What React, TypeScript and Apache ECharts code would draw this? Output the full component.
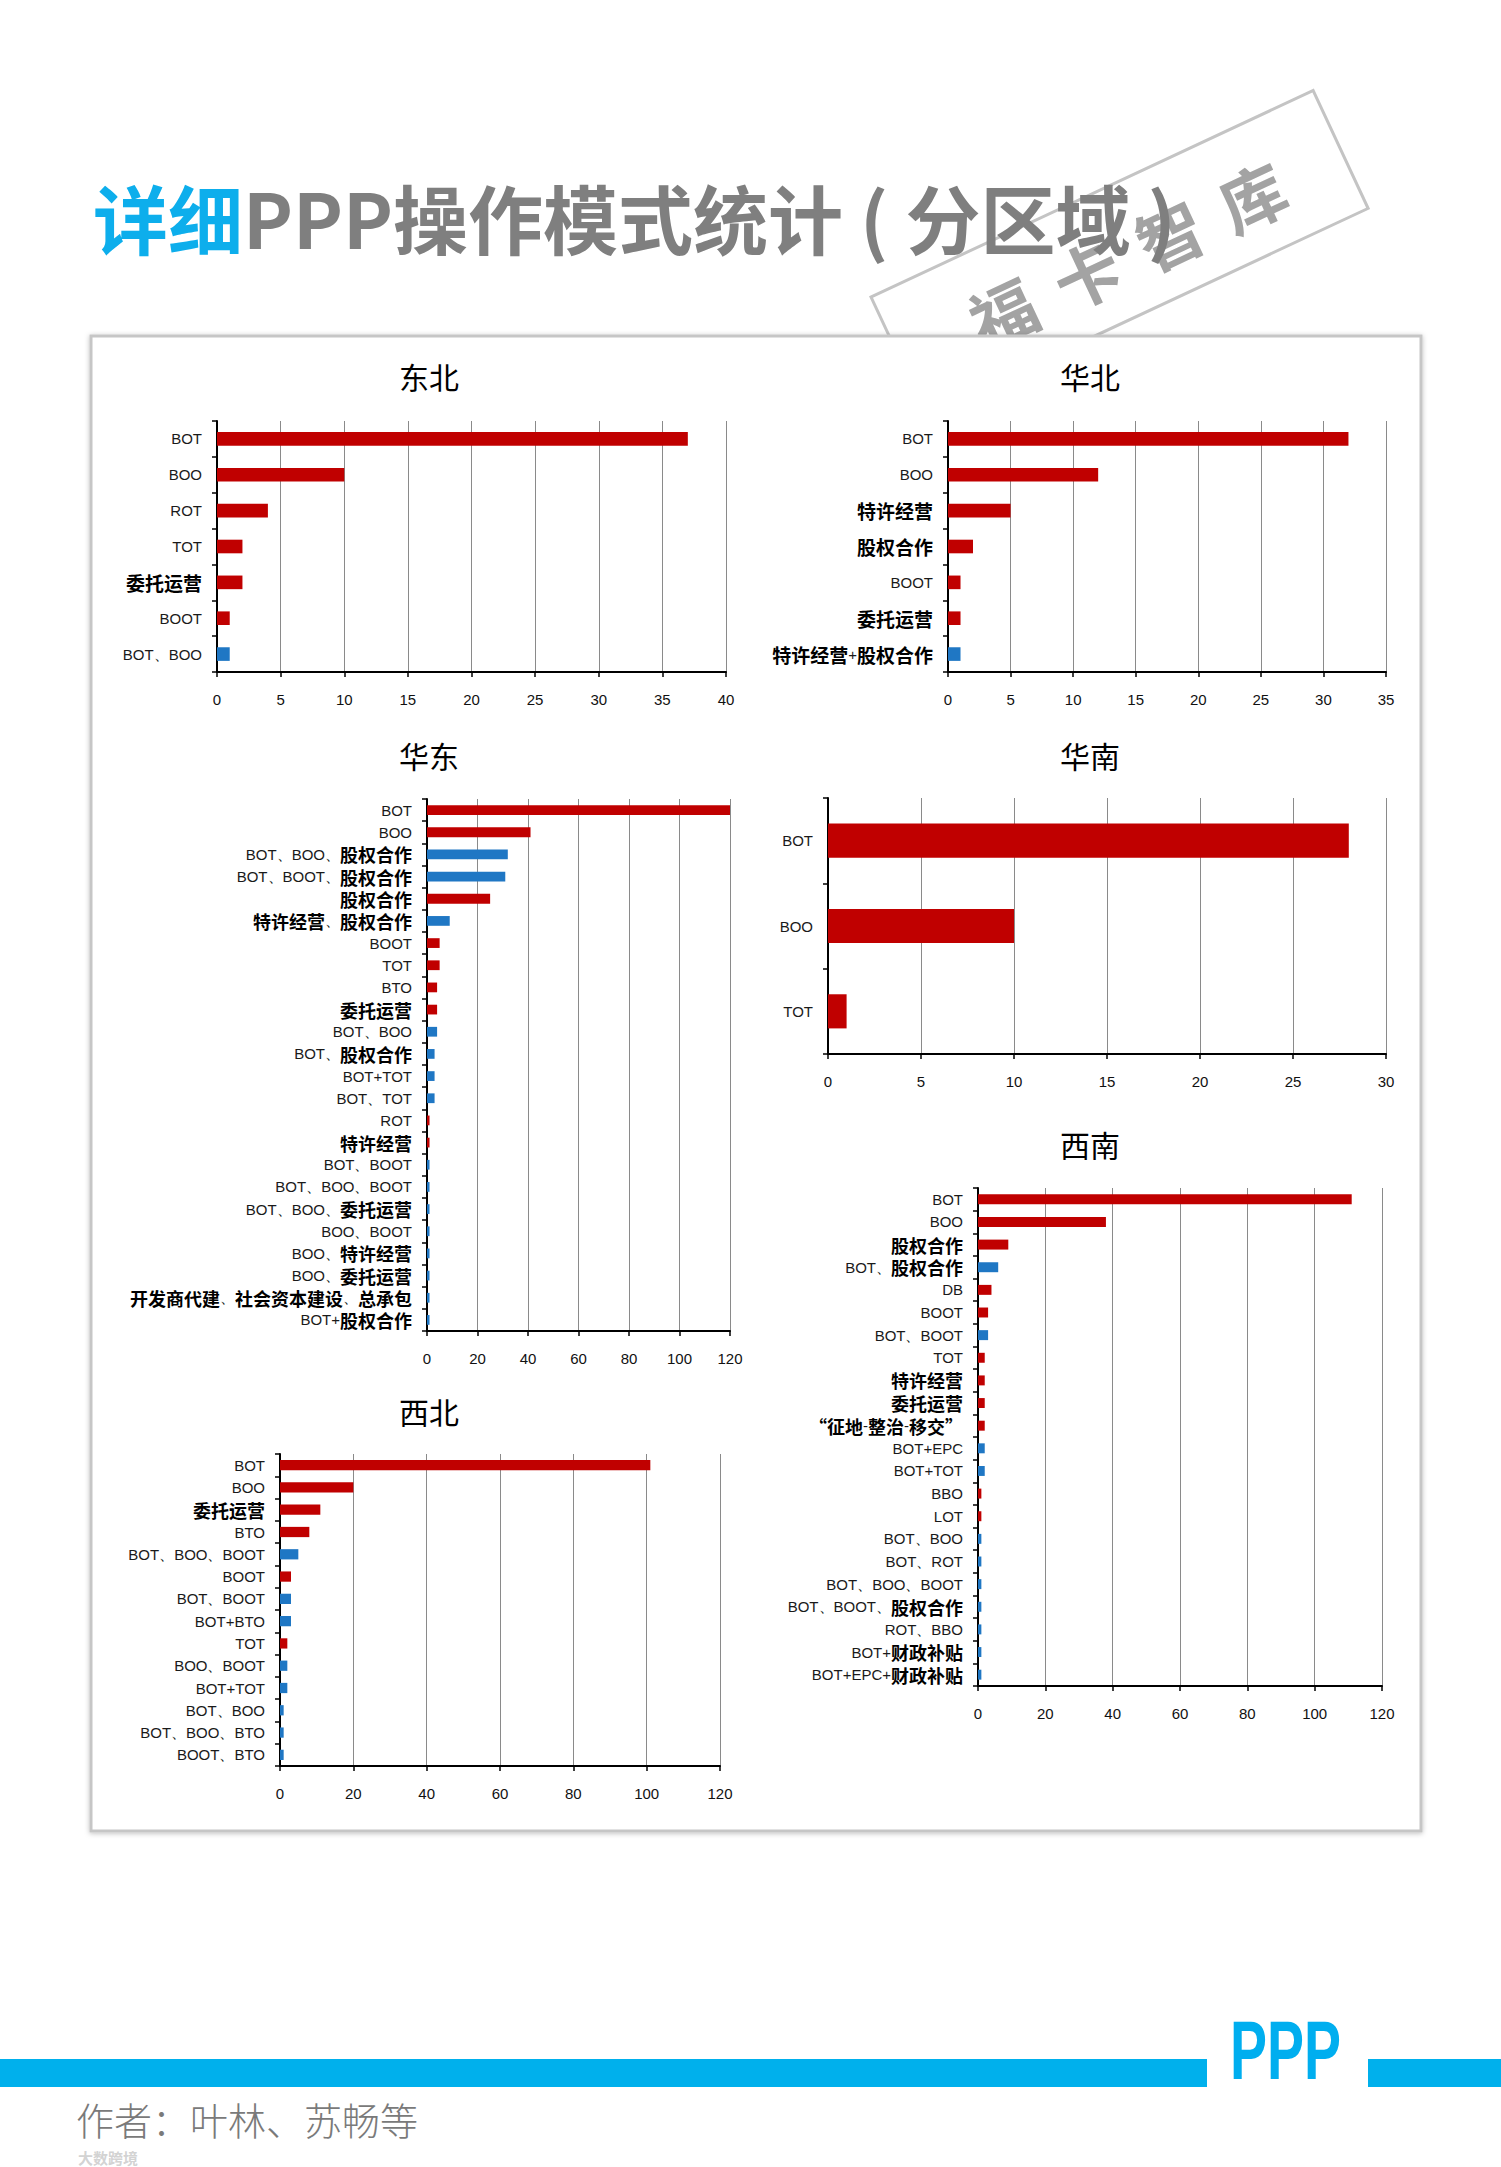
import React, { useEffect, useRef } from 'react';
import * as echarts from 'echarts';

// ---------------- DATA ----------------
const neCats = ['BOT', 'BOO', 'ROT', 'TOT', '委托运营', 'BOOT', 'BOT、BOO'];
const neVals = [37, 10, 4, 2, 2, 1, 1];

const ncCats = ['BOT', 'BOO', '特许经营', '股权合作', 'BOOT', '委托运营', '特许经营+股权合作'];
const ncVals = [32, 12, 5, 2, 1, 1, 1];

const ecCats = [
  'BOT', 'BOO', 'BOT、BOO、股权合作', 'BOT、BOOT、股权合作', '股权合作', '特许经营、股权合作',
  'BOOT', 'TOT', 'BTO', '委托运营', 'BOT、BOO', 'BOT、股权合作', 'BOT+TOT', 'BOT、TOT',
  'ROT', '特许经营', 'BOT、BOOT', 'BOT、BOO、BOOT', 'BOT、BOO、委托运营', 'BOO、BOOT',
  'BOO、特许经营', 'BOO、委托运营', '开发商代建、社会资本建设、总承包', 'BOT+股权合作',
];
const ecVals = [120, 41, 32, 31, 25, 9, 5, 5, 4, 4, 4, 3, 3, 3, 1, 1, 1, 1, 1, 1, 1, 1, 1, 1];

const scCats = ['BOT', 'BOO', 'TOT'];
const scVals = [28, 10, 1];

const swCats = [
  'BOT', 'BOO', '股权合作', 'BOT、股权合作', 'DB', 'BOOT', 'BOT、BOOT', 'TOT', '特许经营',
  '委托运营', '“征地-整治-移交”', 'BOT+EPC', 'BOT+TOT', 'BBO', 'LOT', 'BOT、BOO', 'BOT、ROT',
  'BOT、BOO、BOOT', 'BOT、BOOT、股权合作', 'ROT、BBO', 'BOT+财政补贴', 'BOT+EPC+财政补贴',
];
const swVals = [111, 38, 9, 6, 4, 3, 3, 2, 2, 2, 2, 2, 2, 1, 1, 1, 1, 1, 1, 1, 1, 1];

const nwCats = [
  'BOT', 'BOO', '委托运营', 'BTO', 'BOT、BOO、BOOT', 'BOOT', 'BOT、BOOT', 'BOT+BTO', 'TOT',
  'BOO、BOOT', 'BOT+TOT', 'BOT、BOO', 'BOT、BOO、BTO', 'BOOT、BTO',
];
const nwVals = [101, 20, 11, 8, 5, 3, 3, 3, 2, 2, 2, 1, 1, 1];

const axisMax = [40, 35, 120, 30, 120, 120];
const axisStep = [5, 5, 20, 5, 20, 20];
const regionNames = ['东北', '华北', '华东', '华南', '西南', '西北'];

// ---------------- STYLE / LAYOUT ----------------
const RED = '#C00000';
const BLUE = '#1F77C4';

const layout = [
  { grid: { left: 217, top: 421, width: 509, height: 251 }, tx: 424, ty: 356, bar: '38%', cjk: 19 },
  { grid: { left: 948, top: 421, width: 438, height: 251 }, tx: 1085, ty: 356, bar: '38%', cjk: 19 },
  { grid: { left: 427, top: 799, width: 303, height: 532 }, tx: 424, ty: 735, bar: '44%', cjk: 18 },
  { grid: { left: 828, top: 798, width: 558, height: 256 }, tx: 1085, ty: 735, bar: '40%', cjk: 19 },
  { grid: { left: 978, top: 1188, width: 404, height: 498 }, tx: 1085, ty: 1124, bar: '44%', cjk: 18 },
  { grid: { left: 280, top: 1454, width: 440, height: 312 }, tx: 424, ty: 1391, bar: '46%', cjk: 18 },
];

const allCats = [neCats, ncCats, ecCats, scCats, swCats, nwCats];
const allVals = [neVals, ncVals, ecVals, scVals, swVals, nwVals];

const isCombo = (s: string) => /[、+]/.test(s);
const CJK = /[\u4e00-\u9fff\u201c\u201d]/;
function richLabel(s: string) {
  const parts = s.match(/[\u4e00-\u9fff\u201c\u201d]+|[^\u4e00-\u9fff\u201c\u201d]+/g) || [];
  return parts.map((p) => (CJK.test(p) ? `{c|${p}}` : `{l|${p}}`)).join('');
}

function buildOption() {
  const grid = layout.map((l) => ({ ...l.grid, containLabel: false, outerBoundsMode: 'none' }));
  const xAxis = layout.map((l, i) => ({
    type: 'value',
    gridIndex: i,
    min: 0,
    max: axisMax[i],
    interval: axisStep[i],
    axisLine: { show: true, lineStyle: { color: '#000', width: 2 } },
    axisTick: { show: true, length: 5, lineStyle: { color: '#000', width: 1.5 } },
    axisLabel: { margin: 20, fontSize: 15, color: '#111', fontFamily: 'Liberation Sans', showMaxLabel: true, showMinLabel: true },
    splitLine: { show: true, lineStyle: { color: '#8a8a8a', width: 1 } },
  }));
  const yAxis = layout.map((l, i) => ({
    type: 'category',
    gridIndex: i,
    data: allCats[i],
    inverse: true,
    axisLine: { show: true, lineStyle: { color: '#000', width: 2 } },
    axisTick: { show: true, length: 5, alignWithLabel: false, lineStyle: { color: '#000', width: 1.5 } },
    axisLabel: {
      interval: 0,
      margin: 15,
      lineHeight: 18,
      formatter: (v: string) => richLabel(v),
      rich: {
        c: { fontFamily: 'Noto Sans CJK SC', fontWeight: 'bold', fontSize: l.cjk, lineHeight: 18, color: '#000' },
        l: { fontFamily: 'Liberation Sans', fontSize: 15, lineHeight: 18, color: '#1a1a1a' },
      },
    },
    splitLine: { show: false },
  }));
  const series = layout.map((l, i) => ({
    type: 'bar',
    xAxisIndex: i,
    yAxisIndex: i,
    barWidth: l.bar,
    silent: true,
    data: allVals[i].map((v, j) => ({ value: v, itemStyle: { color: isCombo(allCats[i][j]) ? BLUE : RED } })),
  }));
  const title = [
    {
      text: '{a|详细}{b|PPP操作模式统计 ( 分区域 )}',
      left: 88,
      top: 170,
      textStyle: {
        rich: {
          a: { fontSize: 75, fontWeight: 'bold', color: '#0DAEEC', fontFamily: 'Noto Sans CJK SC', lineHeight: 82 },
          b: { fontSize: 75, fontWeight: 'bold', color: '#7F7F7F', fontFamily: 'Noto Sans CJK SC', lineHeight: 82 },
        },
      },
    },
    ...layout.map((l, i) => ({
      text: regionNames[i],
      left: l.tx,
      top: l.ty,
      textAlign: 'center',
      textStyle: { fontSize: 30, fontWeight: 'normal', color: '#000', fontFamily: 'Noto Sans CJK SC' },
    })),
  ];

  const stampChars = ['福', '卡', '智', '库'];
  const stampU = [113, 205, 297, 388];
  const rot = (25 * Math.PI) / 180;

  const graphic = {
    elements: [
      {
        type: 'group',
        x: 871,
        y: 297,
        rotation: rot,
        z: -10,
        children: [
          { type: 'rect', z: -10, shape: { x: 0, y: 0, width: 488, height: 130 }, style: { fill: 'none', stroke: '#c4c4c4', lineWidth: 3 } },
          ...stampChars.map((ch, k) => ({
            type: 'text',
            z: -10,
            x: stampU[k],
            y: 68,
            style: {
              text: ch,
              fontSize: 66,
              fontWeight: 'bold',
              fontFamily: 'Noto Sans CJK SC',
              fill: '#a3a3a3',
              align: 'center',
              verticalAlign: 'middle',
              textAlign: 'center',
              textVerticalAlign: 'middle',
            },
          })),
        ],
      },
      {
        type: 'rect',
        z: -5,
        shape: { x: 91, y: 336, width: 1330, height: 1495 },
        style: { fill: '#fff', stroke: '#c6c6c6', lineWidth: 3, shadowBlur: 5, shadowColor: 'rgba(0,0,0,0.25)', shadowOffsetY: 1 },
      },
      { type: 'rect', z: -5, shape: { x: 0, y: 2059, width: 1207, height: 28 }, style: { fill: '#00B0EC' } },
      { type: 'rect', z: -5, shape: { x: 1368, y: 2059, width: 133, height: 28 }, style: { fill: '#00B0EC' } },
      {
        type: 'text',
        x: 1230,
        y: 2050,
        scaleX: 0.66,
        style: {
          text: 'PPP',
          fontSize: 84,
          fontWeight: 'bold',
          fontFamily: 'Liberation Sans',
          fill: '#00AEEF',
          align: 'left',
          verticalAlign: 'middle',
          textAlign: 'left',
          textVerticalAlign: 'middle',
        },
      },
      {
        type: 'text',
        x: 76,
        y: 2118,
        style: {
          text: '作者：叶林、苏畅等',
          fontSize: 38,
          fontWeight: 300,
          fontFamily: 'Noto Sans CJK SC',
          fill: '#7a7a7a',
          align: 'left',
          verticalAlign: 'middle',
          textAlign: 'left',
          textVerticalAlign: 'middle',
        },
      },
      {
        type: 'text',
        x: 78,
        y: 2157,
        style: {
          text: '大数跨境',
          fontSize: 15,
          fontWeight: 'bold',
          fontFamily: 'Noto Sans CJK SC',
          fill: 'rgba(205,205,205,0.9)',
          align: 'left',
          verticalAlign: 'middle',
          textAlign: 'left',
          textVerticalAlign: 'middle',
        },
      },
    ],
  };

  return { animation: false, backgroundColor: '#fff', title, grid, xAxis, yAxis, series, graphic };
}

export default function App() {
  const ref = useRef<HTMLDivElement>(null);
  useEffect(() => {
    document.body.style.margin = '0';
    document.body.style.overflow = 'hidden';
    if (!ref.current) return;
    const chart = echarts.init(ref.current, null, { renderer: 'svg', width: 1501, height: 2167 });
    chart.setOption(buildOption() as any);
    return () => chart.dispose();
  }, []);
  return <div ref={ref} style={{ width: 1501, height: 2167 }} />;
}
